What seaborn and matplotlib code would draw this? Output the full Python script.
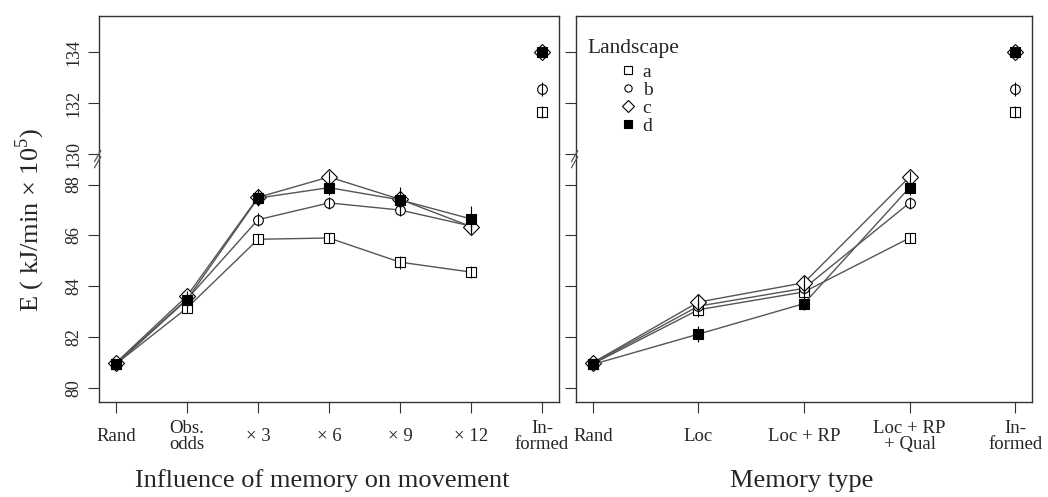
import numpy as np
import pandas as pd
import matplotlib
matplotlib.use("Agg")
import matplotlib.pyplot as plt
import matplotlib.transforms as mtransforms
from matplotlib.lines import Line2D
import seaborn as sns

# ---------------- data ----------------
landscapes = ["a", "b", "c", "d"]

memory_labels = ["Rand", "Obs.\nodds", "× 3", "× 6", "× 9", "× 12", "In-\nformed"]
a_memory = [80.95, 83.15, 85.85, 85.90, 84.95, 84.56]
b_memory = [80.98, 83.50, 86.62, 87.28, 87.00, 86.37]
c_memory = [81.00, 83.62, 87.50, 88.30, 87.42, 86.35]
d_memory = [80.93, 83.48, 87.47, 87.88, 87.40, 86.65]
a_memory_err = [0.15, 0.20, 0.20, 0.20, 0.25, 0.25]
b_memory_err = [0.15, 0.20, 0.25, 0.25, 0.25, 0.25]
c_memory_err = [0.15, 0.20, 0.25, 0.25, 0.30, 0.30]
d_memory_err = [0.15, 0.25, 0.30, 0.30, 0.50, 0.50]

type_labels = ["Rand", "Loc", "Loc + RP", "Loc + RP\n+ Qual", "In-\nformed"]
a_type = [80.95, 83.08, 83.78, 85.90]
b_type = [80.98, 83.22, 83.92, 87.28]
c_type = [81.00, 83.38, 84.14, 88.30]
d_type = [80.93, 82.12, 83.32, 87.88]
a_type_err = [0.15, 0.30, 0.20, 0.20]
b_type_err = [0.15, 0.30, 0.25, 0.25]
c_type_err = [0.15, 0.30, 0.25, 0.25]
d_type_err = [0.15, 0.30, 0.25, 0.30]

informed = [131.66, 132.55, 134.00, 134.00]
informed_err = [0.25, 0.28, 0.20, 0.20]

ytick_values = [80, 82, 84, 86, 88, 130, 132, 134]
BREAK_LOW, BREAK_HIGH = 88.6, 129.4   # gap in the y axis
SHIFT = BREAK_HIGH - BREAK_LOW


def squash(v):
    v = np.asarray(v, dtype=float)
    return np.where(v > 100, v - SHIFT, v)


# ---------------- style ----------------
sns.set_theme(style="ticks")
plt.rcParams['font.family'] = ['Liberation Serif', 'DejaVu Serif']
plt.rcParams['mathtext.fontset'] = 'custom'
plt.rcParams['mathtext.rm'] = 'Liberation Serif'

marker_style = {
    "a": dict(marker="s", markersize=7.5, markerfacecolor="white"),
    "b": dict(marker="o", markersize=7, markerfacecolor="white"),
    "c": dict(marker="D", markersize=8, markerfacecolor="white"),
    "d": dict(marker="s", markersize=7.5, markerfacecolor="black"),
}
LINE_COLOR = "#555555"
SPINE_COLOR = "#333333"

fig = plt.figure(figsize=(10.48, 4.97), dpi=100)
axL = fig.add_axes([0.0945, 0.1911, 0.4389, 0.7767])
axR = fig.add_axes([0.5496, 0.1911, 0.4351, 0.7767])

panels = [
    (axL, memory_labels, [a_memory, b_memory, c_memory, d_memory],
     [a_memory_err, b_memory_err, c_memory_err, d_memory_err], (-0.24, 6.24)),
    (axR, type_labels, [a_type, b_type, c_type, d_type],
     [a_type_err, b_type_err, c_type_err, d_type_err], (-0.16, 4.16)),
]

ytick_pos = squash(ytick_values)

for ax, labels, series, errs, xlim in panels:
    n = len(labels)
    for k, lab in enumerate(landscapes):
        vals = series[k]
        pos = list(range(len(vals)))
        df = pd.DataFrame({"pos": pos, "E": squash(vals)})
        sns.lineplot(data=df, x="pos", y="E", ax=ax, color=LINE_COLOR, lw=1.0,
                     markeredgecolor="black", markeredgewidth=0.8,
                     sort=False, zorder=2 + k, **marker_style[lab])
        ax.errorbar(pos, squash(vals), yerr=errs[k], fmt="none",
                    ecolor="black", elinewidth=0.8, capsize=0, zorder=10)
        dfi = pd.DataFrame({"pos": [n - 1], "E": squash([informed[k]])})
        sns.lineplot(data=dfi, x="pos", y="E", ax=ax, color=LINE_COLOR, lw=1.0,
                     markeredgecolor="black", markeredgewidth=0.8,
                     zorder=2 + k, **marker_style[lab])
        ax.errorbar([n - 1], squash([informed[k]]), yerr=[informed_err[k]],
                    fmt="none", ecolor="black", elinewidth=0.8, capsize=0, zorder=10)

    ax.set_xlim(*xlim)
    ax.set_ylim(79.45, 94.63)
    ax.set_xticks(range(n))
    ax.set_xticklabels(labels, fontsize=13.5, linespacing=0.9)
    for t in ax.get_xticklabels():
        t.set_va("center")
    ax.set_yticks(ytick_pos)
    ax.set_xlabel("")
    ax.set_ylabel("")
    ax.tick_params(axis="x", length=8, width=0.8, color=SPINE_COLOR, pad=17,
                   bottom=True)
    ax.tick_params(axis="y", length=8, width=0.8, color=SPINE_COLOR, left=True)
    for sp in ax.spines.values():
        sp.set_visible(True)
        sp.set_color(SPINE_COLOR)
        sp.set_linewidth(1.0)

    # axis-break slashes on the left spine
    trans = mtransforms.blended_transform_factory(ax.transAxes, ax.transData)
    ybrk = 89.0
    for dy in (-0.12, 0.12):
        ax.plot([-0.010, 0.004], [ybrk + dy - 0.22, ybrk + dy + 0.22],
                transform=trans, color="#555555", lw=0.9, clip_on=False,
                zorder=20)

axL.set_yticklabels([str(v) for v in ytick_values], fontsize=13, rotation=90,
                    va="center")
axL.tick_params(axis="y", pad=4)
axR.set_yticklabels([])

# legend
axR.text(0.026, 0.917, "Landscape", transform=axR.transAxes, ha="left",
         va="center", fontsize=15.5)
handles = [Line2D([], [], ls="none", markeredgecolor="black",
                  markeredgewidth=0.8, **marker_style[l]) for l in landscapes]
axR.legend(handles, landscapes, loc="upper left", bbox_to_anchor=(0.093, 0.878),
           frameon=False, fontsize=14, markerscale=0.75, handlelength=1.0,
           handletextpad=0.25, labelspacing=0.03, borderpad=0, borderaxespad=0)

fig.text(322 / 1048, 1 - 481 / 497, "Influence of memory on movement",
         ha="center", va="center", fontsize=19)
fig.text(802 / 1048, 1 - 481 / 497, "Memory type", ha="center", va="center",
         fontsize=19)
fig.text(30 / 1048, 1 - 220 / 497, "E ( kJ/min × 10$^{\\mathregular{5}}$)",
         rotation=90, ha="center", va="center", fontsize=19)

fig.savefig("out.png", dpi=100)
